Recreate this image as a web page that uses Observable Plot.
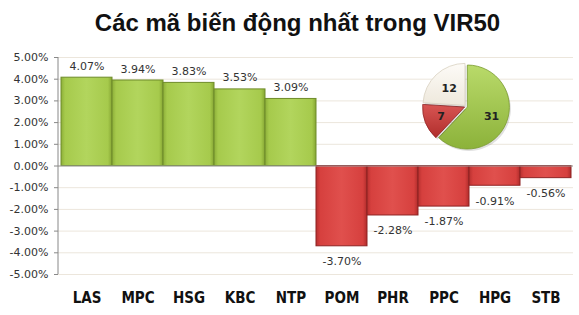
<!DOCTYPE html>
<html><head><meta charset="utf-8">
<script src="https://cdn.jsdelivr.net/npm/d3@7"></script>
<script src="https://cdn.jsdelivr.net/npm/@observablehq/plot@0.6"></script>
<style>
body{margin:0;background:#fff;}
#title{height:45px;box-sizing:border-box;padding:9px 0 0 16px;line-height:30px;text-align:center;font:bold 24px "Liberation Sans",Arial,sans-serif;color:#111;width:579px;white-space:nowrap;}
#chart svg{display:block;}
</style></head><body>
<div id="title">Các mã biến động nhất trong VIR50</div>
<div id="chart"></div>
<script>
const tickers = ["LAS","MPC","HSG","KBC","NTP","POM","PHR","PPC","HPG","STB"];
const changes = [4.07, 3.94, 3.83, 3.53, 3.09, -3.70, -2.28, -1.87, -0.91, -0.56];
const yTicks = [-5,-4,-3,-2,-1,0,1,2,3,4,5];
const pieGroups = ["Tăng","Giảm","Đứng giá"];
const pieCounts = [31, 7, 12];

const data = tickers.map((t,i)=>({ticker:t, value:changes[i]}));
const pieData = pieGroups.map((g,i)=>({group:g, count:pieCounts[i]}));
const fmt = v => v.toFixed(2) + "%";

function defs(){
  const g = d3.create("svg:g");
  const d = g.append("defs");
  const mk = (id, stops, vertical) => {
    const lg = d.append("linearGradient").attr("id", id)
      .attr("x1",0).attr("y1",0).attr("x2", vertical?0:1).attr("y2", vertical?1:0);
    stops.forEach(([o,c]) => lg.append("stop").attr("offset", o).attr("stop-color", c));
  };
  mk("gGreen", [[0,"#8cae38"],[0.08,"#a6ca4c"],[0.5,"#b2d55d"],[0.92,"#a6ca4c"],[1,"#86a633"]]);
  mk("gRed", [[0,"#b8302f"],[0.08,"#d6403e"],[0.5,"#e0504d"],[0.92,"#d6403e"],[1,"#b02c2b"]]);
  mk("pGreen", [[0,"#b9da6a"],[1,"#8cb23a"]], true);
  mk("pRed", [[0,"#d85553"],[1,"#b02e2c"]], true);
  mk("pWhite", [[0,"#fdfbf7"],[1,"#eee8dc"]], true);
  return g.node();
}

function leftAxisLine(index, scales, values, dims){
  const g = d3.create("svg:line")
    .attr("x1", dims.marginLeft).attr("x2", dims.marginLeft)
    .attr("y1", scales.y(5)).attr("y2", scales.y(-5))
    .attr("stroke", "#888");
  return g.node();
}

function pie(index, scales, values, dims){
  const cx = scales.x("HPG") - 3;
  const cy = scales.y(2.72);
  const r = 42;
  const arcs = d3.pie().sort(null).value(d=>d.count)(pieData);
  const arc = d3.arc().innerRadius(0).outerRadius(r);
  const fills = ["url(#pGreen)","url(#pRed)","url(#pWhite)"];
  const strokes = ["#7a9a30","#922524","#d8d0c0"];
  const g = d3.create("svg:g").attr("transform", `translate(${cx},${cy})`);
  arcs.forEach((a,i)=>{
    const mid = (a.startAngle + a.endAngle)/2;
    const off = 1.5;
    const dx = Math.sin(mid)*off, dy = -Math.cos(mid)*off;
    g.append("path").attr("d", arc(a)).attr("transform", `translate(${dx+1.5},${dy+2})`)
      .attr("fill","rgba(0,0,0,0.12)");
    g.append("path").attr("d", arc(a)).attr("transform", `translate(${dx},${dy})`)
      .attr("fill", fills[i]).attr("stroke", strokes[i]).attr("stroke-width", 0.8);
    const lr = [0.62, 0.6, 0.55][i];
    const lx = Math.sin(mid)*r*lr + dx, ly = -Math.cos(mid)*r*lr + dy;
    g.append("text").attr("x", lx).attr("y", ly).attr("dy","0.35em")
      .attr("text-anchor","middle").attr("font-size", 11).attr("font-weight","bold")
      .attr("font-family","'DejaVu Sans',sans-serif").attr("fill","#222")
      .text(a.data.count);
  });
  return g.node();
}

const plot = Plot.plot({
  width: 579, height: 270,
  marginTop: 12, marginBottom: 41, marginLeft: 58, marginRight: 6,
  style: {fontFamily: "'DejaVu Sans', sans-serif", fontSize: "10.5px", color: "#333", background: "#fff"},
  x: {domain: tickers, padding: 0, label: null},
  y: {domain: [-5, 5], label: null},
  marks: [
    defs,
    Plot.gridY(yTicks, {stroke: "#ece6dc", strokeOpacity: 1}),
    Plot.barY(data, {x: "ticker", y: "value",
      fill: d => d.value >= 0 ? "url(#gGreen)" : "url(#gRed)",
      stroke: d => d.value >= 0 ? "#6f8c2a" : "#8e2323", strokeWidth: 1, inset: 0}),
    Plot.ruleY([0], {stroke: "#9a9a9a"}),
    Plot.axisY(yTicks, {tickFormat: fmt, tickSize: 4, tickPadding: 6, stroke: "#888", fill: "#333", fontSize: 11}),
    leftAxisLine,
    Plot.axisX({anchor: "bottom", tickSize: 0, tickPadding: 18, fontSize: 15, fontWeight: "bold",
      fontFamily: "'DejaVu Sans Condensed','Liberation Sans',sans-serif", fill: "#111"}),
    Plot.text(data, {x: "ticker", y: "value", text: d => fmt(d.value),
      fontSize: 11, fill: "#333", filter: d => d.value >= 0, lineAnchor: "bottom", dy: -8}),
    Plot.text(data, {x: "ticker", y: "value", text: d => fmt(d.value),
      fontSize: 11, fill: "#333", filter: d => d.value < 0, lineAnchor: "top", dy: 11}),
    pie
  ]
});
document.getElementById("chart").appendChild(plot);
</script></body></html>
